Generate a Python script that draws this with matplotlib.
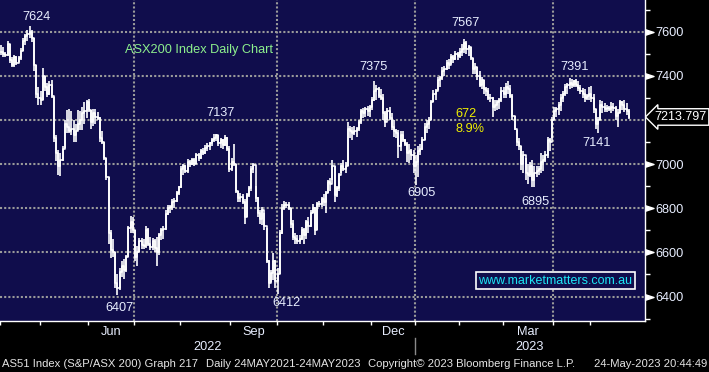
import matplotlib
matplotlib.use('Agg')
import matplotlib.pyplot as plt
import matplotlib.transforms as mtransforms
import numpy as np
import pandas as pd

plt.rcParams['font.family'] = ['Liberation Sans', 'DejaVu Sans']

# ASX trading calendar for the window shown on the chart
start_date = '2022-04-01'
end_date = '2023-05-24'
asx_holidays = ['2022-04-15', '2022-04-18', '2022-04-25', '2022-06-13', '2022-09-22',
                '2022-12-26', '2022-12-27', '2023-01-02', '2023-01-26', '2023-04-07',
                '2023-04-10', '2023-04-25']

# daily bars, one row per month
high_prices = [
    7540, 7530, 7510, 7560, 7545, 7485, 7495, 7490, 7490, 7525, 7570, 7590, 7610, 7624, 7610, 7570, 7450, 7350,
    7330, 7435, 7400, 7370, 7375, 7380, 7305, 7130, 7065, 7050, 7080, 7200, 7245, 7250, 7240, 7200, 7180, 7245, 7240, 7260, 7280, 7290,
    7295, 7245, 7250, 7250, 7235, 7215, 7150, 7100, 7030, 6940, 6700, 6660, 6600, 6500, 6530, 6560, 6570, 6590, 6720, 6765, 6760,
    6700, 6630, 6665, 6665, 6660, 6720, 6710, 6670, 6665, 6660, 6670, 6690, 6710, 6720, 6790, 6815, 6815, 6840, 6845, 6880, 6900,
    6990, 7000, 6995, 7025, 7020, 7030, 7030, 7050, 7050, 7070, 7075, 7085, 7095, 7100, 7120, 7137, 7135, 7130, 7120, 7115, 7130, 7125, 7080,
    7030, 7090, 7000, 6880, 6870, 6865, 6840, 6870, 6900, 6990, 7005, 6900, 6850, 6790, 6805, 6780, 6710, 6565, 6520, 6595, 6565,
    6530, 6700, 6820, 6835, 6830, 6830, 6800, 6745, 6690, 6680, 6680, 6715, 6710, 6745, 6760, 6790, 6820, 6805, 6830, 6835, 6850,
    6865, 6880, 6930, 6935, 7020, 6990, 6900, 6960, 7005, 7020, 7010, 7190, 7175, 7170, 7175, 7170, 7200, 7250, 7255, 7260, 7265, 7270,
    7305, 7375, 7360, 7350, 7340, 7320, 7240, 7255, 7260, 7230, 7200, 7160, 7155, 7150, 7150, 7115, 7100, 7090, 7070, 7065,
    7040, 7080, 7090, 7125, 7185, 7200, 7215, 7290, 7335, 7340, 7395, 7400, 7440, 7445, 7470, 7475, 7500, 7495, 7515, 7510,
    7525, 7545, 7567, 7560, 7540, 7530, 7480, 7460, 7440, 7420, 7395, 7380, 7350, 7345, 7320, 7305, 7290, 7290, 7300, 7350,
    7350, 7370, 7375, 7360, 7320, 7220, 7155, 7120, 7080, 7060, 7030, 7000, 7010, 7020, 6990, 6990, 6990, 7050, 7040, 7060, 7125, 7120, 7215,
    7260, 7260, 7280, 7320, 7330, 7365, 7370, 7391, 7385, 7380, 7385, 7375, 7360, 7345, 7340, 7320, 7350,
    7355, 7320, 7250, 7215, 7290, 7285, 7275, 7270, 7265, 7280, 7275, 7265, 7250, 7290, 7285, 7290, 7275, 7250,
]
low_prices = [
    7495, 7485, 7485, 7490, 7460, 7440, 7440, 7450, 7465, 7470, 7515, 7540, 7560, 7570, 7555, 7420, 7300, 7270,
    7270, 7290, 7330, 7305, 7315, 7300, 7100, 7015, 6950, 6945, 7015, 7075, 7140, 7140, 7130, 7100, 7100, 7155, 7155, 7155, 7180, 7210,
    7235, 7160, 7175, 7180, 7200, 7100, 7090, 7020, 6930, 6640, 6575, 6580, 6440, 6407, 6430, 6490, 6480, 6510, 6580, 6690, 6690,
    6560, 6540, 6600, 6615, 6615, 6620, 6630, 6610, 6610, 6600, 6540, 6590, 6655, 6660, 6700, 6770, 6780, 6790, 6800, 6830, 6860,
    6890, 6950, 6960, 6960, 6985, 6995, 6990, 7000, 7015, 7025, 7040, 7045, 7060, 7065, 7080, 7100, 7105, 7080, 7075, 7070, 7080, 7060, 6965,
    6970, 6990, 6870, 6830, 6830, 6820, 6730, 6760, 6850, 6880, 6960, 6830, 6760, 6730, 6725, 6700, 6550, 6440, 6465, 6475, 6440,
    6412, 6500, 6685, 6790, 6800, 6790, 6710, 6655, 6640, 6640, 6640, 6655, 6640, 6660, 6690, 6715, 6780, 6680, 6700, 6805, 6805,
    6810, 6780, 6870, 6880, 6930, 6830, 6850, 6880, 6960, 6970, 6960, 6990, 7120, 7110, 7130, 7125, 7150, 7180, 7210, 7215, 7220, 7215,
    7245, 7285, 7290, 7300, 7290, 7200, 7170, 7200, 7200, 7155, 7125, 7120, 7030, 7060, 7100, 7080, 7010, 7005, 7020, 6960,
    6905, 6940, 7040, 7065, 7110, 7140, 7160, 7200, 7280, 7290, 7335, 7350, 7380, 7400, 7425, 7430, 7455, 7460, 7470, 7470,
    7480, 7490, 7505, 7500, 7490, 7470, 7410, 7410, 7380, 7350, 7340, 7320, 7310, 7290, 7280, 7215, 7240, 7245, 7250, 7280,
    7300, 7300, 7320, 7300, 7200, 7155, 7080, 7065, 6975, 6960, 6930, 6910, 6940, 6895, 6895, 6940, 6950, 6960, 6970, 7010, 7030, 7060, 7120,
    7200, 7215, 7225, 7240, 7280, 7310, 7320, 7340, 7345, 7350, 7350, 7330, 7320, 7300, 7280, 7290, 7290,
    7280, 7230, 7160, 7141, 7200, 7230, 7235, 7235, 7240, 7230, 7240, 7200, 7170, 7230, 7245, 7235, 7225, 7205,
]
close_prices = [
    7510, 7500, 7495, 7545, 7470, 7450, 7485, 7460, 7480, 7515, 7560, 7580, 7590, 7600, 7570, 7450, 7320, 7300,
    7290, 7400, 7350, 7320, 7360, 7310, 7120, 7050, 6990, 7020, 7070, 7180, 7170, 7150, 7160, 7130, 7150, 7180, 7200, 7230, 7240, 7280,
    7245, 7190, 7230, 7215, 7210, 7120, 7100, 7030, 6940, 6690, 6610, 6600, 6460, 6440, 6510, 6540, 6520, 6580, 6710, 6740, 6700,
    6580, 6600, 6650, 6635, 6630, 6700, 6640, 6625, 6650, 6620, 6600, 6680, 6700, 6705, 6775, 6800, 6805, 6830, 6835, 6870, 6895,
    6980, 6990, 6970, 7010, 7000, 7020, 7000, 7040, 7030, 7060, 7050, 7075, 7080, 7095, 7110, 7120, 7130, 7095, 7110, 7085, 7120, 7070, 6980,
    7010, 7000, 6880, 6845, 6850, 6830, 6760, 6860, 6890, 6980, 6995, 6845, 6780, 6750, 6790, 6720, 6560, 6460, 6505, 6560, 6470,
    6500, 6690, 6800, 6815, 6815, 6800, 6730, 6670, 6660, 6650, 6660, 6700, 6680, 6740, 6720, 6780, 6800, 6700, 6820, 6820, 6840,
    6830, 6870, 6920, 6910, 6990, 6860, 6890, 6950, 6990, 6980, 6990, 7160, 7150, 7140, 7150, 7160, 7190, 7240, 7230, 7250, 7240, 7260,
    7290, 7330, 7340, 7310, 7300, 7230, 7190, 7240, 7210, 7170, 7150, 7140, 7080, 7130, 7110, 7090, 7050, 7060, 7040, 6990,
    7010, 7060, 7070, 7110, 7170, 7180, 7200, 7280, 7320, 7330, 7380, 7390, 7420, 7430, 7460, 7450, 7485, 7475, 7500, 7490,
    7510, 7520, 7550, 7520, 7530, 7480, 7430, 7440, 7400, 7360, 7380, 7340, 7330, 7300, 7300, 7260, 7270, 7280, 7290, 7330,
    7320, 7350, 7340, 7310, 7220, 7160, 7100, 7080, 7000, 7040, 6960, 6950, 6990, 6930, 6960, 6970, 6980, 7010, 7020, 7040, 7110, 7100, 7200,
    7240, 7250, 7270, 7300, 7320, 7350, 7360, 7370, 7360, 7375, 7360, 7345, 7330, 7320, 7300, 7310, 7320,
    7300, 7250, 7180, 7200, 7270, 7260, 7250, 7255, 7250, 7260, 7255, 7220, 7230, 7280, 7270, 7250, 7240, 7213.797,
]

# turning point callouts: text, then where the text sits (bar index, index level)
callout_text = ['7624', '7137', '7375', '7567', '7391', '7141', '6407', '6412', '6905', '6895']
callout_x = [16.1, 99.9, 169.6, 211.5, 261.1, 271.1, 53.9, 129.9, 191.4, 243.3]
callout_y = [7667, 7232, 7440, 7640, 7440, 7096, 6348, 6370, 6869, 6828]

price_ticks = [6400, 6600, 6800, 7000, 7400, 7600]   # 7200 sits under the last price flag
month_labels = ['Jun', 'Sep', 'Dec', 'Mar']
month_label_starts = ['2022-06-01', '2022-09-01', '2022-12-01', '2023-03-01']
quarter_starts = ['2022-07-01', '2022-10-01', '2023-01-01', '2023-04-01']
year_labels = ['2022', '2023']

bg = '#100d4c'
grid_col = '#9a9a9a'
txt_col = '#e8eeff'

days = pd.bdate_range(start_date, end_date)
days = days[~days.isin(pd.to_datetime(asx_holidays))]
x = np.arange(len(days))
high = np.array(high_prices)
low = np.array(low_prices)
close = np.array(close_prices)


def day_index(d):
    # first trading day on/after d, shifted half a bar to sit between bars
    return int(np.searchsorted(days, pd.Timestamp(d))) - 0.5


fig = plt.figure(figsize=(7.09, 3.72), dpi=100, facecolor='black')
ax = fig.add_axes([0, 1 - 321 / 372, 645 / 709, 321 / 372])
ax.set_facecolor(bg)
ax.set_xlim(-0.3, 293.4)
ax.set_ylim(6289, 7744)

# dotted grid
for v in range(6400, 7601, 200):
    ax.axhline(v, color=grid_col, lw=1.5, dashes=(1, 1), zorder=1)
for d in quarter_starts:
    ax.axvline(day_index(d), color=grid_col, lw=1.5, dashes=(1, 1), zorder=1)

# bars: high-low line plus open/close ticks joined as steps
ax.vlines(x, low, high, color='white', lw=1.2, zorder=3)
ax.step(x, close, where='post', color='white', lw=1.2, zorder=3)
ax.hlines(close[-1], x[-1], x[-1] + 0.5, color='white', lw=1.2, zorder=3)

# spines
for s in ['left', 'top']:
    ax.spines[s].set_visible(False)
for s in ['right', 'bottom']:
    ax.spines[s].set_color('white')
    ax.spines[s].set_linewidth(1.0)

# right price axis
ax.yaxis.tick_right()
ax.set_yticks(price_ticks)
ax.set_yticks(list(range(6300, 7701, 200)), minor=True)
ax.tick_params(axis='y', which='major', length=0, pad=7.5, labelsize=9.2, labelcolor=txt_col)
ax.tick_params(axis='y', which='minor', length=3.6, width=1, color='white', direction='out')
yblend = mtransforms.blended_transform_factory(ax.transAxes, ax.transData)
ax.plot([1.0065] * len(price_ticks), price_ticks, ls='none', marker=[(-1, -0.65), (1, 0), (-1, 0.65)],
        ms=6.5, color='white', transform=yblend, clip_on=False, zorder=5)

# last price flag
ax.text(1.0145, close[-1], '%.3f' % close[-1], transform=yblend, ha='left', va='center',
        fontsize=9, color='white', clip_on=False,
        bbox=dict(boxstyle='larrow,pad=0.18', fc='black', ec='white', lw=1))

# bottom date axis: month boundary ticks, labels centred in the month
month_starts = pd.date_range('2022-04-01', '2023-05-01', freq='MS')
ax.set_xticks([day_index(d) for d in month_starts], minor=True)
centers = []
for d in month_label_starts:
    nxt = (pd.Timestamp(d) + pd.offsets.MonthBegin(1)).strftime('%Y-%m-%d')
    centers.append((day_index(d) + day_index(nxt)) / 2)
ax.set_xticks(centers)
ax.set_xticklabels(month_labels)
ax.tick_params(axis='x', which='major', length=0, pad=3.6, labelsize=9.2, labelcolor=txt_col)
ax.tick_params(axis='x', which='minor', length=3, width=1, color='white', direction='out')

xblend = mtransforms.blended_transform_factory(ax.transData, ax.transAxes)
year_split = day_index('2023-01-01')
ax.text((-0.3 + year_split) / 2, -0.081, year_labels[0], transform=xblend, ha='center', va='center',
        fontsize=9.2, color=txt_col)
ax.text((year_split + 293.4) / 2, -0.081, year_labels[1], transform=xblend, ha='center', va='center',
        fontsize=9.2, color=txt_col)
ax.plot([year_split, year_split], [-0.053, -0.103], color='#8a8a8a', lw=1, transform=xblend, clip_on=False)

# callouts
for t, cx, cy in zip(callout_text, callout_x, callout_y):
    ax.text(cx, cy, t, ha='center', va='center', fontsize=9.2, color=txt_col, zorder=6)

peak = high[211]
trough = low[242]
swing = peak - trough
ax.text(206.9, 7227, '%d' % swing, ha='left', va='center', fontsize=9.2, color='#f0f000', zorder=6)
ax.text(206.9, 7159, '%.1f%%' % (swing / peak * 100), ha='left', va='center', fontsize=9.2,
        color='#f0f000', zorder=6)

ax.text(0.194, 0.844, 'ASX200 Index Daily Chart', transform=ax.transAxes, ha='left', va='center',
        fontsize=9.2, color='#8df08d', zorder=6)
ax.text(0.861, 0.125, 'www.marketmatters.com.au', transform=ax.transAxes, ha='center', va='center',
        fontsize=9, color='#1ee6f5', zorder=6,
        bbox=dict(boxstyle='square,pad=0.2', fc=bg, ec='white', lw=1.2))

# footer
fy = 1 - 364 / 372
fig.text(2 / 709, fy, 'AS51 Index (S&P/ASX 200) Graph 217', ha='left', va='center', fontsize=8.1, color='#e4e4e4')
fig.text(206 / 709, fy, 'Daily 24MAY2021-24MAY2023', ha='left', va='center', fontsize=8.1, color='#e4e4e4')
fig.text(368 / 709, fy, 'Copyright\u00a9 2023 Bloomberg Finance L.P.', ha='left', va='center', fontsize=8.1, color='#e4e4e4')
fig.text(707 / 709, fy, '24-May-2023 20:44:49', ha='right', va='center', fontsize=8.1, color='#e4e4e4')

fig.savefig('out.png', dpi=100, facecolor='black')
